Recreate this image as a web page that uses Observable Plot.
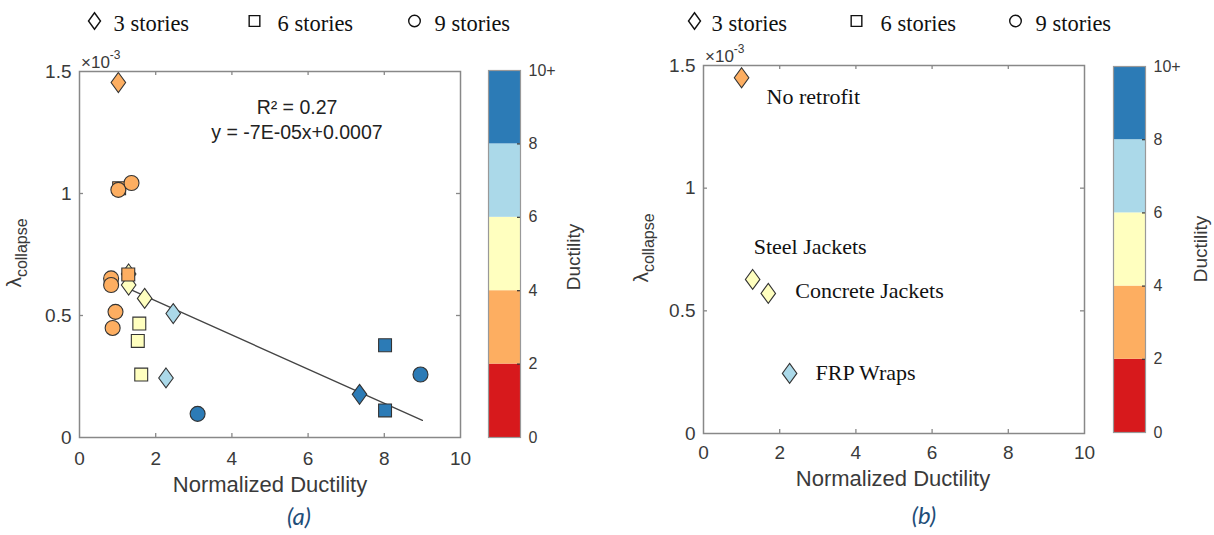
<!DOCTYPE html>
<html>
<head>
<meta charset="utf-8">
<script src="https://cdn.jsdelivr.net/npm/d3@7"></script>
<script src="https://cdn.jsdelivr.net/npm/@observablehq/plot@0.6"></script>
<style>
  body { margin: 0; background: #fff; }
  #fig { position: relative; width: 1214px; height: 535px; overflow: hidden; background: #fff; }
  #fig > svg { position: absolute; }
</style>
</head>
<body>
<div id="fig"></div>
<script>
// λ_collapse (×10⁻³) against normalized ductility, by building height
const stories3X    = [1.02, 1.29, 1.29, 1.71, 2.46, 2.27, 7.35];
const stories3Y    = [1.455, 0.67, 0.625, 0.57, 0.508, 0.244, 0.177];
const stories3Duct = [3, 5, 5, 5, 7, 7, 9];

const stories6X    = [1.04, 1.28, 1.57, 1.53, 1.62, 8.02, 8.02];
const stories6Y    = [1.022, 0.668, 0.467, 0.396, 0.258, 0.378, 0.111];
const stories6Duct = [3, 3, 5, 5, 5, 9, 9];

const stories9X    = [1.02, 1.365, 0.83, 0.83, 0.945, 0.87, 3.1, 8.95];
const stories9Y    = [1.015, 1.043, 0.652, 0.625, 0.515, 0.449, 0.097, 0.258];
const stories9Duct = [3, 3, 3, 3, 3, 3, 9, 9];

// linear fit shown in panel (a)
const fitSlope = -0.07;      // ×10⁻³ per unit ductility  (-7E-05)
const fitIntercept = 0.7;    // ×10⁻³                      (0.0007)
const fitR2 = 0.27;
const fitXRange = [1.3, 9.0];
const fitEquation = "y = -7E-05x+0.0007";

// panel (b): 3-story retrofit schemes
const retrofitNames = ["No retrofit", "Steel Jackets", "Concrete Jackets", "FRP Wraps"];
const retrofitX     = [1.0, 1.29, 1.70, 2.26];
const retrofitY     = [1.45, 0.628, 0.571, 0.245];
const retrofitDuct  = [3, 5, 5, 7];

// scales and ticks
const ductBreaks   = [2, 4, 6, 8];
const ductColors   = ["#d7191c", "#fdae61", "#ffffbf", "#abd9e9", "#2c7bb6"];
const cbEdges      = [0, 2, 4, 6, 8, 10];
const cbTicks      = [0, 2, 4, 6, 8, 10];
const cbTickLabels = ["0", "2", "4", "6", "8", "10+"];
const xTicks       = [0, 2, 4, 6, 8, 10];
const yTicks       = [0, 0.5, 1, 1.5];
const yTickLabels  = ["0", "0.5", "1", "1.5"];
const legendLabels = ["3 stories", "6 stories", "9 stories"];

const rows = (xs, ys, ds) => xs.map((x, i) => ({x, y: ys[i], d: ds[i]}));
const d3s  = rows(stories3X, stories3Y, stories3Duct);
const d6s  = rows(stories6X, stories6Y, stories6Duct);
const d9s  = rows(stories9X, stories9Y, stories9Duct);
const retro = retrofitNames.map((name, i) => ({name, x: retrofitX[i], y: retrofitY[i], d: retrofitDuct[i]}));
const fitLine = fitXRange.map(x => ({x, y: fitSlope * x + fitIntercept}));
const cbBins = cbEdges.slice(0, -1).map((lo, i) => ({lo, hi: cbEdges[i + 1], mid: (lo + cbEdges[i + 1]) / 2}));

// MATLAB-style marker shapes
const diamondSym = {draw(c, size) {
  const r = Math.sqrt(size / Math.PI), h = r * 1.33, w = r * 0.97;
  c.moveTo(0, -h); c.lineTo(w, 0); c.lineTo(0, h); c.lineTo(-w, 0); c.closePath();
}};
const squareSym = {draw(c, size) {
  const r = Math.sqrt(size / Math.PI), s = r * 0.86;
  c.moveTo(-s, -s); c.lineTo(s, -s); c.lineTo(s, s); c.lineTo(-s, s); c.closePath();
}};
const legendShapes = [diamondSym, squareSym, "circle"];

const colorScale = {type: "threshold", domain: ductBreaks, range: ductColors};
const sans = "Liberation Sans, Arial, Helvetica, sans-serif";
const serif = "Liberation Serif, Times New Roman, serif";
const axisColor = "#888";
const inkColor = "#3a3a3a";
const markerStroke = "#333";

function scatterPanel({width, ml, mr, mt, mb, padX, marks}) {
  const fw = width - ml - mr, fh = 535 - mt - mb;
  const inner = v => v > 0 && v < 10;
  return Plot.plot({
    width, height: 535,
    marginLeft: ml, marginRight: mr, marginTop: mt, marginBottom: mb,
    x: {domain: [0, 10]},
    y: {domain: [0, 1.5]},
    color: colorScale,
    style: {fontFamily: sans, fontSize: "19px", color: inkColor, background: "transparent", overflow: "visible"},
    marks: [
      Plot.axisX({ticks: xTicks, tickSize: 0, tickPadding: padX, label: null, tickFormat: d => String(d)}),
      Plot.axisY({ticks: yTicks, tickSize: 0, tickPadding: 8, label: null,
                  tickFormat: d => yTickLabels[yTicks.indexOf(d)]}),
      // inward ticks on all four sides of the box
      Plot.tickX(xTicks.filter(inner), {x: d => d, insetTop: fh - 4, stroke: axisColor, strokeWidth: 1.3}),
      Plot.tickX(xTicks.filter(inner), {x: d => d, insetBottom: fh - 4, stroke: axisColor, strokeWidth: 1.3}),
      Plot.tickY(yTicks.filter(v => v > 0 && v < 1.5), {y: d => d, insetRight: fw - 4, stroke: axisColor, strokeWidth: 1.3}),
      Plot.tickY(yTicks.filter(v => v > 0 && v < 1.5), {y: d => d, insetLeft: fw - 4, stroke: axisColor, strokeWidth: 1.3}),
      ...marks,
      Plot.frame({stroke: axisColor, strokeWidth: 1.5})
    ]
  });
}

function colorbar({width, ml, mt, mb}) {
  const bw = 32;
  return Plot.plot({
    width, height: 535,
    marginLeft: ml, marginRight: width - ml - bw, marginTop: mt, marginBottom: mb,
    x: {domain: [0, 1], axis: null},
    y: {domain: [0, 10], axis: null},
    color: colorScale,
    style: {fontFamily: sans, fontSize: "16px", color: inkColor, background: "transparent", overflow: "visible"},
    marks: [
      Plot.rect(cbBins, {x1: 0, x2: 1, y1: "lo", y2: "hi", fill: "mid"}),
      Plot.tickY(cbTicks.filter(v => v > 0 && v < 10), {y: d => d, insetLeft: bw - 3, stroke: "#333", strokeWidth: 1.2}),
      Plot.axisY({anchor: "right", ticks: cbTicks, tickSize: 0, tickPadding: 8, label: null,
                  tickFormat: d => cbTickLabels[cbTicks.indexOf(d)]}),
      Plot.frame({stroke: "#999", strokeWidth: 1.2})
    ]
  });
}

// marker-shape legend strip drawn above each panel (pixel layout)
function shapeLegend({width, symX, textX}) {
  const items = legendLabels.map((label, i) => ({label, i, sx: symX[i], tx: textX[i]}));
  return Plot.plot({
    width, height: 40, margin: 0,
    x: {type: "identity", axis: null}, y: {type: "identity", axis: null},
    style: {fontFamily: serif, background: "transparent", overflow: "visible"},
    marks: legendShapes.map((s, i) => Plot.dot([items[i]], {
      x: "sx", y: 20.5, symbol: s, r: i === 2 ? 5.8 : 6.2, fill: "none", stroke: "#111", strokeWidth: 1.4
    })).concat([
      Plot.text(items, {x: "tx", y: 23, text: "label", textAnchor: "start",
                        fontFamily: serif, fontSize: 22.5, fill: "#111"})
    ])
  });
}

const dotOpts = {x: "x", y: "y", fill: "d", r: 7.5, stroke: markerStroke, strokeWidth: 1.1};

// panel (a)
const left = scatterPanel({
  width: 470, ml: 79, mr: 10, mt: 71, mb: 98, padX: 14,
  marks: [
    Plot.line(fitLine, {x: "x", y: "y", stroke: "#444", strokeWidth: 1.3}),
    Plot.dot(d3s, {...dotOpts, symbol: diamondSym}),
    Plot.dot(d6s, {...dotOpts, symbol: squareSym}),
    Plot.dot(d9s, {...dotOpts, symbol: "circle"}),
    Plot.text([`R\u00b2 = ${fitR2}`], {frameAnchor: "top", dx: 27, dy: 29, fontSize: 19.5, fill: "#222"}),
    Plot.text([fitEquation], {frameAnchor: "top", dx: 27, dy: 54, fontSize: 19.5, fill: "#222"})
  ]
});

// panel (b): label offsets (px) for each retrofit annotation
const labelOffsets = [[25, 19], [1, -32], [27, -2], [26, 0]];
const right = scatterPanel({
  width: 490, ml: 93, mr: 16, mt: 65, mb: 102, padX: 12,
  marks: [
    Plot.dot(retro, {...dotOpts, symbol: diamondSym}),
    ...retro.map((r, i) => Plot.text([r], {
      x: "x", y: "y", text: "name", textAnchor: "start",
      dx: labelOffsets[i][0], dy: labelOffsets[i][1],
      fontFamily: serif, fontSize: 22, fill: "#111"
    }))
  ]
});

const fig = document.getElementById("fig");
const place = (el, x) => { el.style.left = x + "px"; el.style.top = "0px"; fig.appendChild(el); };
place(left, 0);
place(colorbar({width: 140, ml: 18, mt: 70, mb: 98}), 470);
place(right, 610);
place(colorbar({width: 114, ml: 13, mt: 66, mb: 103}), 1100);
place(shapeLegend({width: 600, symX: [94, 254, 414], textX: [113, 277, 434]}), 0);
place(shapeLegend({width: 600, symX: [84, 246, 405], textX: [101, 270, 425]}), 610);

// shared annotations: axis titles, exponent, panel tags
const ov = d3.select(fig).append("svg")
  .attr("width", 1214).attr("height", 535)
  .style("left", "0px").style("top", "0px").style("pointer-events", "none");

const panelText = [
  {exp: [81, 68], lam: [21, 253], title: [270, 492], tag: [299, 525], tagText: "(a)", duct: [573, 257]},
  {exp: [705, 62], lam: [648, 248], title: [893, 486], tag: [924, 524], tagText: "(b)", duct: [1200, 249]}
];
panelText.forEach(P => {
  const e = ov.append("text").attr("x", P.exp[0]).attr("y", P.exp[1])
    .style("font-family", sans).style("font-size", "17px").attr("fill", inkColor);
  e.append("tspan").text("\u00d710");
  e.append("tspan").style("font-size", "12px").attr("dy", -9).text("-3");

  const l = ov.append("text").attr("transform", `translate(${P.lam[0]},${P.lam[1]}) rotate(-90)`)
    .attr("text-anchor", "middle").style("font-family", sans).attr("fill", inkColor);
  l.append("tspan").style("font-size", "21px").text("\u03bb");
  l.append("tspan").style("font-size", "16px").attr("dy", 6).text("collapse");

  ov.append("text").attr("x", P.title[0]).attr("y", P.title[1]).attr("text-anchor", "middle")
    .style("font-family", sans).style("font-size", "22px").attr("fill", inkColor).text("Normalized Ductility");

  ov.append("text").attr("x", P.tag[0]).attr("y", P.tag[1]).attr("text-anchor", "middle")
    .style("font-family", "Lato, Open Sans, sans-serif").style("font-style", "italic")
    .style("font-size", "24px").attr("fill", "#1f4e79").text(P.tagText);

  ov.append("text").attr("transform", `translate(${P.duct[0]},${P.duct[1]}) rotate(-90)`)
    .attr("text-anchor", "middle").attr("dominant-baseline", "central")
    .style("font-family", sans).style("font-size", "19px").attr("fill", inkColor).text("Ductility");
});
</script>
</body>
</html>
